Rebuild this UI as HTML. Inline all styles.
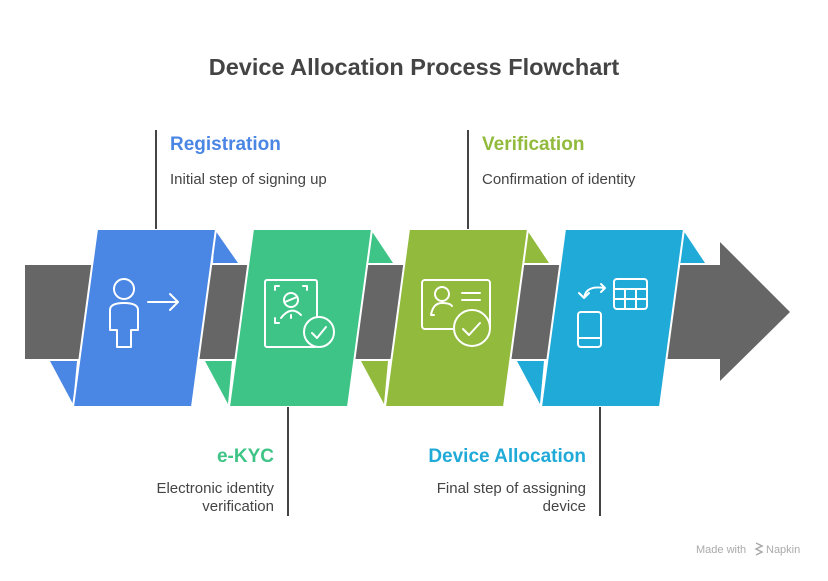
<!DOCTYPE html>
<html><head><meta charset="utf-8"><style>
body{margin:0;width:828px;height:576px;background:#fff;overflow:hidden;font-family:"Liberation Sans",sans-serif}
</style></head><body>
<svg width="828" height="576" viewBox="0 0 828 576" xmlns="http://www.w3.org/2000/svg" font-family="Liberation Sans, sans-serif">
<text x="414" y="75" text-anchor="middle" font-size="23.5" font-weight="bold" fill="#444">Device Allocation Process Flowchart</text>
<rect x="25" y="265" width="700" height="94" fill="#666"/>
<polygon points="720,242 790,312 720,381" fill="#666"/>
<polygon points="215,230 238,263 213,263" fill="#4A86E4"/>
<polygon points="50,361 77,361 73,404" fill="#4A86E4"/>
<polygon points="371,230 393,263 368,263" fill="#3EC486"/>
<polygon points="205,361 232,361 228,404" fill="#3EC486"/>
<polygon points="527,230 549,263 524,263" fill="#92BA3C"/>
<polygon points="361,361 388,361 384,404" fill="#92BA3C"/>
<polygon points="683,230 705,263 680,263" fill="#20AAD8"/>
<polygon points="517,361 544,361 540,404" fill="#20AAD8"/>
<g stroke="#fff" stroke-width="2">
<polygon points="97,229 216,229 192,407 73,407" fill="#4A86E4"/>
<polygon points="253,229 372,229 348,407 229,407" fill="#3EC486"/>
<polygon points="409,229 528,229 504,407 385,407" fill="#92BA3C"/>
<polygon points="565,229 684,229 660,407 541,407" fill="#20AAD8"/>
</g>
<g fill="none" stroke="#fff" stroke-width="2" stroke-linecap="round" stroke-linejoin="round">
<circle cx="124" cy="289" r="10"/>
<path d="M110 330 V310 Q110 303 124 303 Q138 303 138 310 V330 H131 V347 H117 V330 Z"/>
<path d="M148 302 H178 M170 294 L178 302 L170 310"/>
<rect x="265" y="280" width="52" height="67" rx="2"/>
<path d="M275 290 v-4 h4 M307 290 v-4 h-4 M275 318 v5 h4"/>
<circle cx="291" cy="300" r="7"/><path d="M285 302 L297 297"/>
<path d="M281 318 Q291 305 301 315 M291 315 v3"/>
<circle cx="319" cy="332" r="15" fill="#3EC486"/><path d="M312 333 l5 5 l9 -11"/>
<rect x="422" y="280" width="68" height="49" rx="3"/>
<circle cx="442" cy="294" r="7"/><path d="M431 315 Q433 303 442 303 Q450 303 452 306 M431 315 h3"/>
<path d="M462 293 h18 M462 300 h18"/>
<circle cx="472" cy="328" r="18" fill="#92BA3C"/><path d="M463 329 l6 6 l11 -12"/>
<rect x="614" y="279" width="33" height="30" rx="3"/><path d="M614 289 h33 M614 299 h33 M625 289 v20 M636 289 v20"/>
<rect x="578" y="312" width="23" height="35" rx="3"/><path d="M578 338 h23"/>
<path d="M579 293 l5 5 l5 -5 M584 298 Q586 285 604 288 M601 284 l4 4 l-4 4"/>
</g>
<g stroke="#444" stroke-width="2">
<line x1="156" y1="130" x2="156" y2="229"/>
<line x1="468" y1="130" x2="468" y2="229"/>
<line x1="288" y1="407" x2="288" y2="516"/>
<line x1="600" y1="407" x2="600" y2="516"/>
</g>
<text x="170" y="150" font-size="19" font-weight="bold" fill="#4A86E4">Registration</text>
<text x="170" y="184" font-size="15" fill="#444">Initial step of signing up</text>
<text x="482" y="150" font-size="19" font-weight="bold" fill="#92BA3C">Verification</text>
<text x="482" y="184" font-size="15" fill="#444">Confirmation of identity</text>
<text x="274" y="462" font-size="19" font-weight="bold" fill="#3EC486" text-anchor="end">e-KYC</text>
<text x="274" y="493" font-size="15" fill="#444" text-anchor="end">Electronic identity</text>
<text x="274" y="511" font-size="15" fill="#444" text-anchor="end">verification</text>
<text x="586" y="462" font-size="19" font-weight="bold" fill="#20AAD8" text-anchor="end">Device Allocation</text>
<text x="586" y="493" font-size="15" fill="#444" text-anchor="end">Final step of assigning</text>
<text x="586" y="511" font-size="15" fill="#444" text-anchor="end">device</text>
<text x="696" y="553" font-size="11" fill="#aaa">Made with</text>
<path d="M756 543 l6 3 l-6 3 l6 3 l-6 3" stroke="#aaa" stroke-width="1.5" fill="none"/>
<text x="766" y="553" font-size="11" fill="#aaa">Napkin</text>
</svg>
</body></html>
